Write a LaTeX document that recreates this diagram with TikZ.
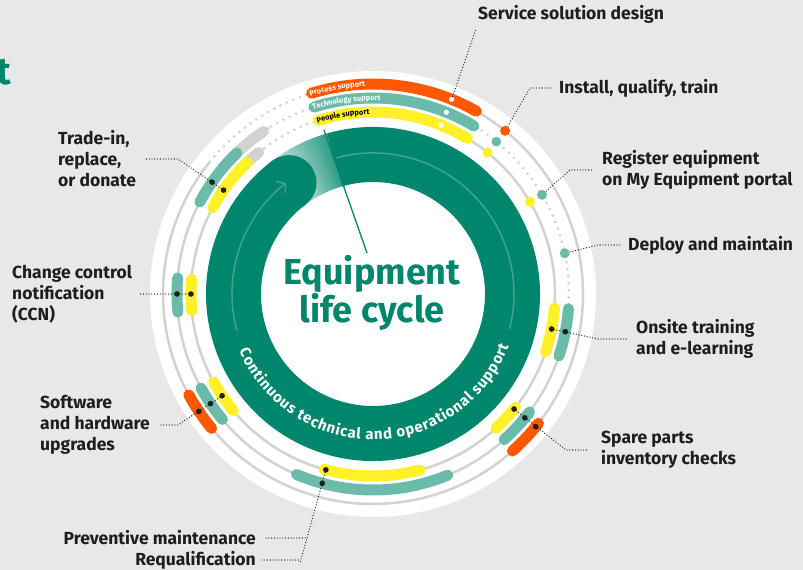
\documentclass[tikz,border=0pt]{standalone}
\usepackage{fontspec}
\setmainfont{Fira Sans}
\usetikzlibrary{decorations.text,arrows.meta}

\definecolor{ringgreen}{RGB}{0,134,108}
\definecolor{barteal}{RGB}{106,187,170}
\definecolor{barorange}{RGB}{255,88,0}
\definecolor{baryellow}{RGB}{255,240,40}
\definecolor{trackgray}{RGB}{210,210,210}
\definecolor{bggray}{RGB}{232,232,232}
\definecolor{labelink}{RGB}{30,30,30}

\def \rIn {182pt}
\def \rMid {196pt}
\def \rOut {210pt}
\def \tagfont {\bfseries\fontsize{7.5}{8}\selectfont}
\def \ringfont {\color{white}\bfseries\fontsize{15}{15}\selectfont}

\tikzset{
  band/.style={line width=11pt, line cap=round},
  rail/.style={trackgray, line width=2.5pt},
  dotrail/.style={trackgray, line width=3pt, line cap=round, dash pattern=on 0pt off 7pt},
  leader/.style={labelink, line width=1.3pt, line cap=round, dash pattern=on 0pt off 2.8pt},
  tag/.style={inner sep=0pt, align=left, text=labelink, font=\bfseries\fontsize{17.5}{21}\selectfont},
}

\begin{document}
\begin{tikzpicture}[x=1pt,y=1pt]
  \useasboundingbox (-373,-276) rectangle (430,294);
  \fill[bggray] (-373,-276) rectangle (430,294);
  \node[anchor=base east, inner sep=0pt, text=ringgreen, font=\bfseries\fontsize{38}{38}\selectfont] (head) at (-362,209) {t};
  \fill[white] (0,0) circle (223pt);

  %tracks
  \draw[rail] (141:\rOut) arc (141:420:\rOut);
  \draw[dotrail] (108.5:\rOut) arc (108.5:141:\rOut);
  \draw[rail] (122:\rMid) arc (122:357:\rMid);
  \draw[dotrail] (-3:\rMid) arc (-3:58:\rMid);
  \draw[dotrail] (109:\rMid) arc (109:122:\rMid);
  \draw[rail] (127:\rIn) arc (127:418:\rIn);
  \draw[dotrail] (109:\rIn) arc (109:127:\rIn);

  %bars
  \draw[band, trackgray] (124:\rMid) arc (124:140:\rMid);
  \draw[band, trackgray] (129:\rIn) arc (129:140:\rIn);
  \draw[band, barorange] (107:\rOut) arc (107:60.5:\rOut);
  \draw[band, barteal] (107.5:\rMid) arc (107.5:59:\rMid);
  \draw[band, baryellow] (107.5:\rIn) arc (107.5:58.7:\rIn);
  \draw[band, barteal] (134:\rMid) arc (134:152:\rMid);
  \draw[band, baryellow] (133.6:\rIn) arc (133.6:151.7:\rIn);
  \draw[band, barteal] (175.3:\rMid) arc (175.3:185.3:\rMid);
  \draw[band, baryellow] (175.3:\rIn) arc (175.3:185.3:\rIn);
  \draw[band, barorange] (-151.3:\rOut) arc (-151.3:-140.2:\rOut);
  \draw[band, barteal] (-151.3:\rMid) arc (-151.3:-140.2:\rMid);
  \draw[band, baryellow] (-151.1:\rIn) arc (-151.1:-140.2:\rIn);
  \draw[band, barteal] (-113:\rMid) arc (-113:-67.6:\rMid);
  \draw[band, baryellow] (-105.6:\rIn) arc (-105.6:-75:\rIn);
  \draw[band, barorange] (-48.4:\rOut) arc (-48.4:-38:\rOut);
  \draw[band, barteal] (-48:\rMid) arc (-48:-37:\rMid);
  \draw[band, baryellow] (-47.5:\rIn) arc (-47.5:-38.5:\rIn);
  \draw[band, barteal] (-18.4:\rMid) arc (-18.4:-4.3:\rMid);
  \draw[band, baryellow] (-18.5:\rIn) arc (-18.5:-4.4:\rIn);

  %bar texts
  \path[decorate, decoration={text along path, text={|\tagfont\color{white}|Process support}, text align={left indent=0pt}}] (107.6:207.5pt) arc (107.6:60:207.5pt);
  \path[decorate, decoration={text along path, text={|\tagfont\color{white}|Technology support}, text align={left indent=0pt}}] (108:193.5pt) arc (108:60:193.5pt);
  \path[decorate, decoration={text along path, text={|\tagfont\color{black}|People support}, text align={left indent=0pt}}] (108:179.5pt) arc (108:60:179.5pt);

  %ring
  \foreach \i in {0,...,27} {
    \pgfmathtruncatemacro\p{80*(1-\i/28)}
    \fill[ringgreen!\p!white] ({106+\i}:167pt) arc ({106+\i}:{107.2+\i}:167pt) -- ({107.2+\i}:112pt) arc ({107.2+\i}:{106+\i}:112pt) -- cycle;
  }
  \fill[ringgreen] (106:167pt) arc (106:-233:167pt) -- (-233:112pt) arc (-233:106:112pt) -- cycle;
  \fill[ringgreen] (-233:139.5pt) circle (27.5pt);
  \coordinate (L1) at (-6,41);
  \coordinate (L2) at (-49,164);
  \draw[ringgreen, line width=1.3pt] (L1) -- (L2);
  \draw[ringgreen!75!white, line width=1.5pt] (105:141pt) arc (105:-14.5:141pt);
  \draw[ringgreen!75!white, line width=1.5pt, -{Straight Barb[length=6pt,width=15pt]}] (195:141pt) arc (195:128:141pt);
  \path[decorate, decoration={text along path, text={|\ringfont|Continuous technical and operational support}, text align={fit to path}}] (-157:145.5pt) arc (-157:-21:145.5pt);
  \node[text=ringgreen, align=center, font=\bfseries\fontsize{36}{35}\selectfont] (core) at (-1,1.5) {Equipment\\life cycle};

  %points
  \coordinate (Va) at (68:\rOut); \coordinate (Vb) at (68:\rMid); \coordinate (Vc) at (68:\rIn);
  \coordinate (Ia) at (51:\rOut); \coordinate (Ib) at (51:\rMid); \coordinate (Ic) at (51:\rIn);
  \coordinate (Ra) at (30.4:\rMid); \coordinate (Rb) at (30.4:\rIn);
  \coordinate (Da) at (12:\rMid);
  \coordinate (Oa) at (-11.1:\rIn); \coordinate (Ob) at (-11.1:\rMid);
  \coordinate (Pa) at (-39.2:\rIn); \coordinate (Pb) at (-39.2:\rMid); \coordinate (Pc) at (-39.2:\rOut);
  \coordinate (Ma) at (-105:\rIn); \coordinate (Mb) at (-105:\rMid);
  \coordinate (Sa) at (-146:\rIn); \coordinate (Sb) at (-146:\rMid); \coordinate (Sc) at (-146:\rOut);
  \coordinate (Ca) at (180:\rIn); \coordinate (Cb) at (180:\rMid);
  \coordinate (Ta) at (145.2:\rIn); \coordinate (Tb) at (145.2:\rMid);
  %elbows
  \coordinate (Ie) at (157,206);
  \coordinate (Re) at (197,124);
  \coordinate (De) at (225,49);
  \coordinate (Oe) at (225,-45);
  \coordinate (Pe) at (193,-156);
  \coordinate (Me) at (-66,-244); \coordinate (Mf) at (-72.5,-266); \coordinate (Mg) at (-73,-269);
  \coordinate (Se) at (-195,-131);
  \coordinate (Te) at (-195,135);

  %labels
  \node[tag, anchor=west] (svc) at (105,280) {Service solution design};
  \node[tag, anchor=west] (inst) at (186,206) {Install, qualify, train};
  \node[tag, anchor=west] (reg) at (229,124) {Register equipment\\on My Equipment portal};
  \node[tag, anchor=west] (dep) at (255,49) {Deploy and maintain};
  \node[tag, anchor=west] (ons) at (263,-45) {Onsite training\\and e-learning};
  \node[tag, anchor=west] (spa) at (228,-156) {Spare parts\\inventory checks};
  \node[tag, anchor=east, align=right] (pm) at (-117,-244) {Preventive maintenance};
  \node[tag, anchor=east, align=right] (rq) at (-117,-266) {Requalification};
  \node[tag, anchor=west] (sw) at (-333,-131) {Software\\and hardware\\upgrades};
  \node[tag, anchor=west] (ccn) at (-361,0) {Change control\\notification\\(CCN)};
  \node[tag, anchor=west] (trd) at (-315,135) {Trade-in,\\replace,\\or donate};

  %leaders
  \draw[leader, shorten >=5pt] (Va) -- (svc.south west);
  \draw[leader, shorten >=7pt] (Ia) -- (Ie) -- (inst.west);
  \draw[leader, shorten >=8pt] (Ra) -- (Re) -- (reg.west);
  \draw[leader, shorten >=8pt] (Da) -- (De) -- (dep.west);
  \draw[leader, shorten >=8pt] (Oa) -- (Oe) -- (ons.west);
  \draw[leader, shorten >=12pt] (Pa) -- (Pe) -- (spa.west);
  \draw[leader] (Ma) -- (Me) -- (Mg);
  \draw[leader, shorten <=10pt] (pm.east) -- (Me);
  \draw[leader, shorten <=6pt] (rq.east) -- (Mf);
  \draw[leader, shorten >=10pt] (Sa) -- (Se) -- (sw.east);
  \draw[leader, shorten >=6pt] (Ca) -- (ccn.east);
  \draw[leader, shorten >=8pt] (Ta) -- (Te) -- (trd.east);

  %dots
  \fill[white] (Va) circle (2.6pt); \fill[white] (Vb) circle (2.6pt); \fill[white] (Vc) circle (2.6pt);
  \fill[barorange] (Ia) circle (5pt); \fill[barteal] (Ib) circle (4.8pt); \fill[baryellow] (Ic) circle (5pt);
  \fill[barteal] (Ra) circle (5pt); \fill[baryellow] (Rb) circle (5pt);
  \fill[barteal] (Da) circle (5pt);
  \foreach \q in {Oa,Ob,Pa,Pb,Pc,Ma,Mb,Sa,Sb,Sc,Ca,Cb,Ta,Tb} \fill[labelink] (\q) circle (2.8pt);
\end{tikzpicture}
\end{document}
